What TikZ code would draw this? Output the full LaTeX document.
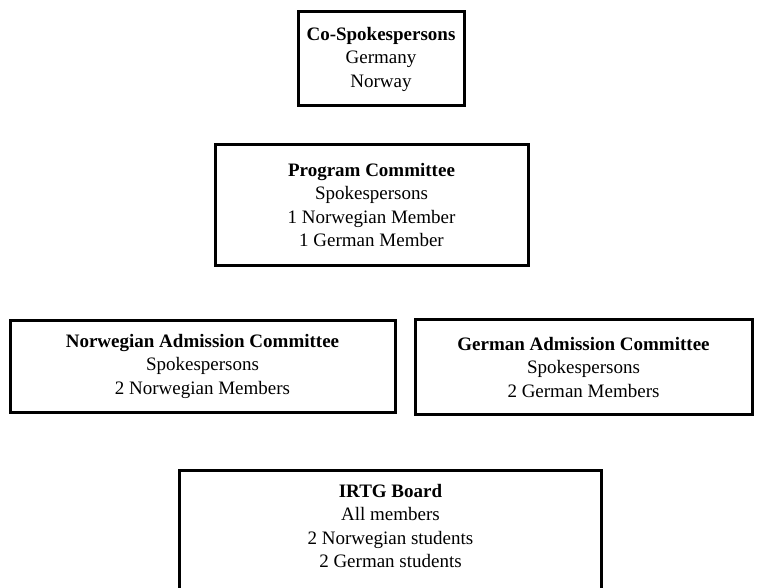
\documentclass[tikz,border=0pt]{standalone}
\usepackage{fontspec}
\setmainfont{Liberation Serif}
\usepackage{tikz}
\tikzstyle{comite} = [rectangle, draw=black, line width=3pt, inner sep=0pt, align=center, font=\fontsize{19}{23.5}\selectfont]

\begin{document}
\begin{tikzpicture}[x=1pt, y=-1pt]
        \useasboundingbox (0,0) rectangle (778,588);

        \node (cospk)  [comite, minimum width=166, minimum height=94]  at (381,59)    {\textbf{Co-Spokespersons}\\Germany\\Norway};
        \node (prog)   [comite, minimum width=313, minimum height=120] at (371.5,205) {\textbf{Program Committee}\\Spokespersons\\1 Norwegian Member\\1 German Member};
        \node (noradm) [comite, minimum width=385, minimum height=92]  at (202.5,366) {\textbf{Norwegian Admission Committee}\\Spokespersons\\2 Norwegian Members};
        \node (geradm) [comite, minimum width=337, minimum height=95]  at (583.5,367) {\textbf{German Admission Committee}\\Spokespersons\\2 German Members};

        % board box runs off the bottom of the page
        \node (irtg)   [comite, draw=none, minimum width=419, minimum height=108] at (390.5,526) {\textbf{IRTG Board}\\All members\\2 Norwegian students\\2 German students};
        \draw[line width=3pt] (irtg.north west) rectangle ([yshift=-60pt]irtg.south east);
    \end{tikzpicture}
\end{document}
